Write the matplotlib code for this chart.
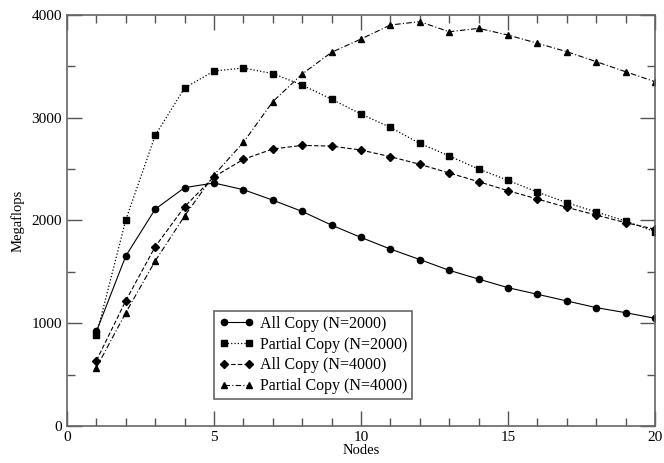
import numpy as np
import matplotlib
matplotlib.use('Agg')
from matplotlib import pyplot as plt
from matplotlib.ticker import MultipleLocator

plt.rc('font', family='Liberation Serif')

nodes = list(range(1, 21))
# Megaflops
all_copy_2000 = [920, 1655, 2110, 2320, 2365, 2300, 2198, 2088, 1955, 1835,
                 1722, 1620, 1515, 1430, 1346, 1282, 1217, 1152, 1103, 1048]
partial_2000 = [886, 2005, 2828, 3290, 3455, 3484, 3430, 3318, 3180, 3036,
                2906, 2750, 2628, 2501, 2391, 2277, 2173, 2083, 1995, 1891]
all_copy_4000 = [636, 1220, 1745, 2134, 2425, 2595, 2696, 2731, 2724, 2686,
                 2621, 2547, 2462, 2378, 2290, 2209, 2128, 2053, 1979, 1915]
partial_4000 = [568, 1103, 1606, 2044, 2443, 2760, 3157, 3426, 3637, 3766,
                3903, 3935, 3837, 3870, 3805, 3725, 3643, 3546, 3448, 3351]

fig = plt.figure(figsize=(6.64, 4.63), dpi=100)
ax = fig.add_axes([67/664, 1-426/463, (655-67)/664, (426-15)/463])

ax.plot(nodes, all_copy_2000, '-', color='black', lw=0.8, marker='o', ms=4.5,
        label='All Copy (N=2000)')
ax.plot(nodes, partial_2000, ':', color='black', lw=0.9, marker='s', ms=4.5,
        label='Partial Copy (N=2000)')
ax.plot(nodes, all_copy_4000, '--', color='black', lw=0.8, marker='D', ms=4,
        dashes=(4, 2), label='All Copy (N=4000)')
ax.plot(nodes, partial_4000, '-.', color='black', lw=0.8, marker='^', ms=5,
        dashes=(5, 2, 1, 2), label='Partial Copy (N=4000)')

ax.set_xlim(0, 20)
ax.set_ylim(0, 4000)
ax.xaxis.set_major_locator(MultipleLocator(5))
ax.xaxis.set_minor_locator(MultipleLocator(1))
ax.yaxis.set_major_locator(MultipleLocator(1000))
ax.yaxis.set_minor_locator(MultipleLocator(500))
ax.tick_params(which='both', direction='in', top=True, right=True,
               labelsize=11, color='#555555')
ax.tick_params(which='major', length=11, width=1)
ax.tick_params(which='minor', length=6, width=1)
for s in ax.spines.values():
    s.set_color('#666666')
    s.set_linewidth(1.2)

ax.set_xlabel('Nodes', fontsize=10.5, labelpad=0)
ax.set_ylabel('Megaflops', fontsize=10.5, labelpad=5)

leg = ax.legend(loc='lower left', bbox_to_anchor=(214/664, 1-399/463),
                bbox_transform=fig.transFigure, numpoints=2, handlelength=2.2,
                fontsize=11.5, fancybox=False, framealpha=1, borderpad=0.3,
                labelspacing=0.3, handletextpad=0.4, borderaxespad=0)
leg.get_frame().set_edgecolor('#666666')
leg.get_frame().set_linewidth(1.2)

plt.savefig('out.png', dpi=100)
